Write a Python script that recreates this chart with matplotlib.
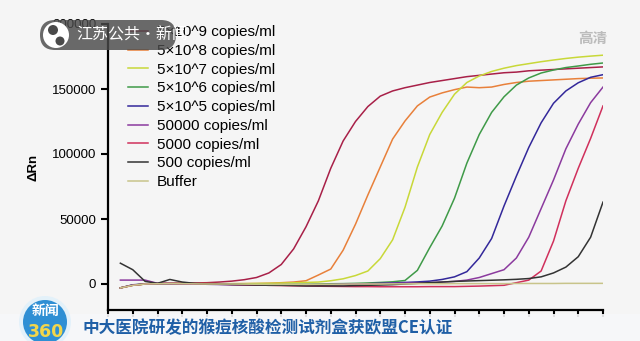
import numpy as np
import matplotlib
matplotlib.use("Agg")
import matplotlib.pyplot as plt
from matplotlib.patches import Circle, FancyBboxPatch, Rectangle

# amplification curves, delta Rn per cycle (cycles 1..40)
cycles = np.arange(1, 41)

rn_5e9 = [-3000, -1000, 0, 300, 500, 600, 800, 1000, 1500, 2200,
          3300, 5000, 8500, 15000, 27000, 44000, 64000, 89000, 110000, 125000,
          136500, 144500, 148500, 151000, 153000, 155000, 156500, 158000, 159500, 160500,
          161500, 162500, 163000, 164000, 164500, 165000, 165500, 166000, 166500, 167000]
rn_5e8 = [-3000, -800, 0, 300, 400, 400, 300, 300, 200, 200,
          300, 400, 600, 1000, 1500, 2500, 6900, 11500, 26000, 46000,
          68500, 90000, 111500, 125400, 137000, 143800, 147000, 149500, 151500, 151000,
          151500, 153500, 155000, 156000, 156500, 157000, 157500, 158000, 158300, 158500]
rn_5e7 = [-3000, -1000, 0, 200, 300, 300, 200, 200, 200, 300,
          300, 400, 500, 700, 900, 1200, 1500, 2500, 4000, 6500,
          10000, 19500, 34000, 59000, 90000, 115000, 132000, 146000, 155000, 160000,
          163500, 166000, 168000, 169500, 171000, 172300, 173500, 174500, 175300, 176000]
rn_5e6 = [-3000, -800, 0, 200, 300, 300, 200, 0, -200, -300,
          -500, -500, -500, -500, -300, -200, 0, 200, 300, 500,
          800, 1200, 1700, 2700, 10500, 28000, 44600, 66000, 93000, 115000,
          132000, 144000, 153000, 158500, 162300, 164600, 166500, 167700, 169000, 170000]
rn_5e5 = [-3000, -600, 0, 300, 300, 200, 0, -200, -300, -500,
          -600, -700, -800, -800, -800, -700, -600, -500, -300, 0,
          200, 500, 800, 1200, 1600, 2200, 3500, 5500, 9500, 20000,
          35000, 60000, 83000, 105000, 124000, 139000, 148500, 154800, 159000, 161000]
rn_5e4 = [3000, 3000, 3000, 500, 300, 200, 0, -200, -300, -400,
          -500, -600, -700, -700, -700, -600, -500, -400, -200, 0,
          200, 300, 500, 700, 900, 1000, 1500, 2000, 3000, 5000,
          8000, 11000, 20000, 36000, 58000, 80000, 104000, 123000, 139500, 151500]
rn_5e3 = [-3000, -1000, 0, 300, 400, 300, 200, 0, -200, -400,
          -600, -800, -1000, -1200, -1400, -1500, -1700, -1800, -1900, -2000,
          -2000, -2100, -2100, -2100, -2100, -2000, -2000, -2000, -1800, -1600,
          -1300, -1000, 1000, 3000, 10000, 33000, 64000, 89000, 112000, 137000]
rn_500 = [16000, 11000, 2000, 500, 3500, 1500, 500, 0, 0, -300,
          -500, -800, -1000, -1000, -1200, -1500, -1500, -1500, -1500, -1200,
          -1000, -800, -500, 0, 500, 1000, 1500, 2000, 2300, 2600,
          2900, 3200, 3600, 4200, 5500, 8500, 13000, 21000, 36000, 63000]
rn_buffer = [-3000, -1000, 0, 200, 300, 200, 100, 0, 0, 0,
             -100, -200, -300, -300, -300, -300, -200, -200, -100, 0,
             0, 0, 100, 100, 200, 200, 200, 300, 300, 300,
             300, 300, 400, 400, 400, 400, 500, 500, 500, 500]

series = [rn_5e9, rn_5e8, rn_5e7, rn_5e6, rn_5e5, rn_5e4, rn_5e3, rn_500, rn_buffer]
labels = ["5×10^9 copies/ml", "5×10^8 copies/ml", "5×10^7 copies/ml",
          "5×10^6 copies/ml", "5×10^5 copies/ml", "50000 copies/ml",
          "5000 copies/ml", "500 copies/ml", "Buffer"]
colors = ["#a82048", "#e8803a", "#c8d838", "#3f9a48", "#33289a",
          "#8b3a9e", "#d0305c", "#333333", "#c8c48a"]

y_ticks = [0, 50000, 100000, 150000, 200000]
caption = "中大医院研发的猴痘核酸检测试剂盒获欧盟CE认证"

plt.rcParams["font.family"] = ["Liberation Sans", "DejaVu Sans"]

W, H = 640, 341
bg = "#f5f5f5"
fig = plt.figure(figsize=(W / 100, H / 100), dpi=100, facecolor=bg)
ax = fig.add_axes([108 / W, 1 - 310 / H, 495 / W, 286 / H], facecolor=bg)

for vals, lab, col in zip(series, labels, colors):
    ax.plot(cycles, vals, color=col, lw=1.1, label=lab)

ax.set_xlim(0, 40)
ax.set_ylim(-20000, 200000)
ax.set_xticks(range(0, 41, 2))
ax.set_xticklabels([])
ax.set_yticks(y_ticks)
ax.set_yticklabels([str(v) for v in y_ticks], fontsize=9.5)
ax.tick_params(direction="out", length=5, width=1.5, color="black")
for side in ["top", "right"]:
    ax.spines[side].set_visible(False)
for side in ["left", "bottom"]:
    ax.spines[side].set_linewidth(1.6)
ax.set_ylabel("ΔRn", fontsize=9.5, fontweight="bold", labelpad=9)

ax.legend(loc="upper left", bbox_to_anchor=(0.028, 1.017), frameon=False,
          fontsize=11, handlelength=1.3, handletextpad=0.6,
          labelspacing=0.31, borderaxespad=0.0)

# overlay layer in pixel units for the broadcast graphics
ov = fig.add_axes([0, 0, 1, 1], facecolor="none")
ov.set_xlim(0, W)
ov.set_ylim(H, 0)
ov.axis("off")

# station logo, top left
ov.add_patch(FancyBboxPatch((40, 20), 136, 30, boxstyle="round,pad=0,rounding_size=15",
                            fc="#4a4a4a", ec="none", alpha=0.82))
ov.add_patch(Circle((56, 35), 13, fc="white", ec="none"))
ov.add_patch(Circle((53, 30), 5, fc="#4a4a4a", ec="none"))
ov.add_patch(Circle((60, 41), 4.5, fc="#4a4a4a", ec="none"))
ov.text(76, 35, "江苏公共·新闻", color="white", fontsize=11.5, va="center", ha="left",
        family=["Noto Sans CJK SC", "DejaVu Sans"])

# HD tag, top right
ov.text(593, 38, "高清", color="#bcbcbc", fontsize=10.5, fontweight="bold",
        va="center", ha="center", family=["Noto Sans CJK SC", "DejaVu Sans"])

# caption strip
ov.add_patch(Rectangle((0, 314), W, 27, fc="#f7f8fa", ec="none", alpha=0.9))
ov.add_patch(Circle((45, 322), 26, fc="#dff0fb", ec="none", alpha=0.8))
ov.add_patch(Circle((45, 322), 22, fc="#2e8fd4", ec="none"))
ov.text(46, 311, "新闻", color="white", fontsize=10, fontweight="bold",
        va="center", ha="center", family=["Noto Sans CJK SC", "DejaVu Sans"])
ov.text(46, 332, "360", color="#f2d64b", fontsize=12.5, fontweight="bold",
        va="center", ha="center", family=["DejaVu Sans"])
ov.text(82, 328, caption, color="#1f5fa6", fontsize=12, fontweight="bold",
        va="center", ha="left", family=["Noto Sans CJK SC", "DejaVu Sans"])

fig.savefig("out.png", dpi=100, facecolor=bg)
